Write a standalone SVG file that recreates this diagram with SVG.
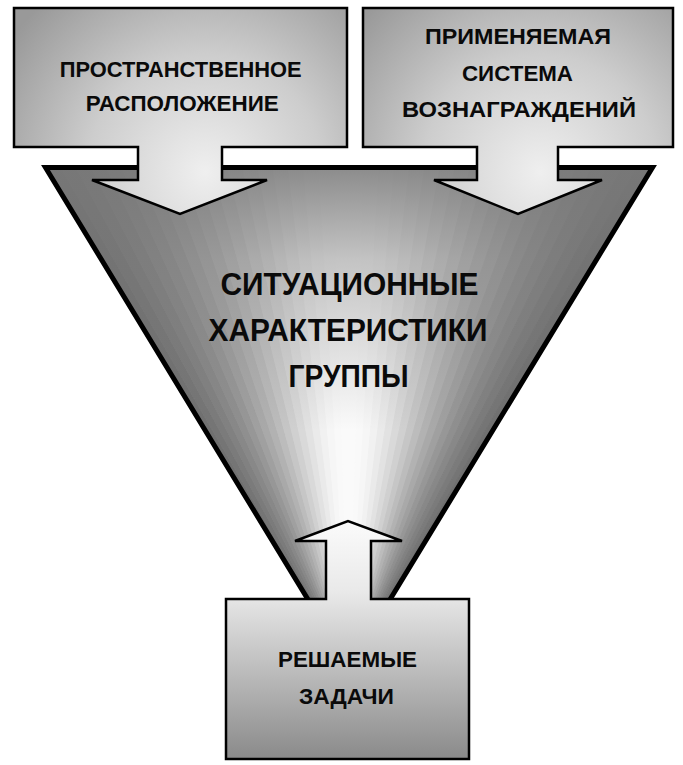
<svg xmlns="http://www.w3.org/2000/svg" width="683" height="765" viewBox="0 0 683 765">
  <style>
    .outline { fill: none; stroke: #000; stroke-linejoin: miter; }
    .blk { stroke: #000; stroke-width: 2.5; stroke-linejoin: miter; }
    .lbl { font-family: "Liberation Sans", Arial, sans-serif; font-weight: bold; fill: #0a0a0a; text-anchor: middle; }
    .small { font-size: 22.5px; }
    .big { font-size: 32px; }
  </style>
  <defs>
    <clipPath id="funnelClip">
      <polygon points="45.5,167.5 652.5,167.5 349,667"/>
    </clipPath>
    <linearGradient id="topShade" gradientUnits="userSpaceOnUse" x1="0" y1="167" x2="0" y2="430">
      <stop offset="0" stop-color="#787878" stop-opacity="0.85"/>
      <stop offset="0.35" stop-color="#787878" stop-opacity="0.42"/>
      <stop offset="1" stop-color="#787878" stop-opacity="0"/>
    </linearGradient>
    <radialGradient id="gLeft" gradientUnits="userSpaceOnUse" cx="205" cy="172" r="235">
      <stop offset="0" stop-color="#efefef"/>
      <stop offset="0.5" stop-color="#cdcdcd"/>
      <stop offset="1" stop-color="#999999"/>
    </radialGradient>
    <radialGradient id="gRight" gradientUnits="userSpaceOnUse" cx="540" cy="172" r="235">
      <stop offset="0" stop-color="#efefef"/>
      <stop offset="0.5" stop-color="#cdcdcd"/>
      <stop offset="1" stop-color="#999999"/>
    </radialGradient>
    <linearGradient id="gBottom" gradientUnits="userSpaceOnUse" x1="0" y1="521" x2="0" y2="759">
      <stop offset="0" stop-color="#fbfbfb"/>
      <stop offset="0.3" stop-color="#e9e9e9"/>
      <stop offset="1" stop-color="#8a8a8a"/>
    </linearGradient>
  </defs>

  <g id="funnel">
    <g id="funnel-shading" stroke-width="1">
      <polygon points="349,667 45.5,167.5 60.7,167.5" fill="#707070" stroke="#707070"/>
      <polygon points="349,667 60.7,167.5 75.9,167.5" fill="#757575" stroke="#757575"/>
      <polygon points="349,667 75.9,167.5 91.0,167.5" fill="#7b7b7b" stroke="#7b7b7b"/>
      <polygon points="349,667 91.0,167.5 106.2,167.5" fill="#818181" stroke="#818181"/>
      <polygon points="349,667 106.2,167.5 121.4,167.5" fill="#888888" stroke="#888888"/>
      <polygon points="349,667 121.4,167.5 136.6,167.5" fill="#8f8f8f" stroke="#8f8f8f"/>
      <polygon points="349,667 136.6,167.5 151.7,167.5" fill="#979797" stroke="#979797"/>
      <polygon points="349,667 151.7,167.5 166.9,167.5" fill="#a0a0a0" stroke="#a0a0a0"/>
      <polygon points="349,667 166.9,167.5 182.1,167.5" fill="#a9a9a9" stroke="#a9a9a9"/>
      <polygon points="349,667 182.1,167.5 197.3,167.5" fill="#b2b2b2" stroke="#b2b2b2"/>
      <polygon points="349,667 197.3,167.5 212.4,167.5" fill="#bcbcbc" stroke="#bcbcbc"/>
      <polygon points="349,667 212.4,167.5 227.6,167.5" fill="#c6c6c6" stroke="#c6c6c6"/>
      <polygon points="349,667 227.6,167.5 242.8,167.5" fill="#d0d0d0" stroke="#d0d0d0"/>
      <polygon points="349,667 242.8,167.5 258.0,167.5" fill="#d9d9d9" stroke="#d9d9d9"/>
      <polygon points="349,667 258.0,167.5 273.1,167.5" fill="#e2e2e2" stroke="#e2e2e2"/>
      <polygon points="349,667 273.1,167.5 288.3,167.5" fill="#eaeaea" stroke="#eaeaea"/>
      <polygon points="349,667 288.3,167.5 303.5,167.5" fill="#f1f1f1" stroke="#f1f1f1"/>
      <polygon points="349,667 303.5,167.5 318.7,167.5" fill="#f6f6f6" stroke="#f6f6f6"/>
      <polygon points="349,667 318.7,167.5 333.8,167.5" fill="#f9f9f9" stroke="#f9f9f9"/>
      <polygon points="349,667 333.8,167.5 349.0,167.5" fill="#fafafa" stroke="#fafafa"/>
      <polygon points="349,667 349.0,167.5 364.2,167.5" fill="#fafafa" stroke="#fafafa"/>
      <polygon points="349,667 364.2,167.5 379.4,167.5" fill="#f9f9f9" stroke="#f9f9f9"/>
      <polygon points="349,667 379.4,167.5 394.5,167.5" fill="#f6f6f6" stroke="#f6f6f6"/>
      <polygon points="349,667 394.5,167.5 409.7,167.5" fill="#f1f1f1" stroke="#f1f1f1"/>
      <polygon points="349,667 409.7,167.5 424.9,167.5" fill="#eaeaea" stroke="#eaeaea"/>
      <polygon points="349,667 424.9,167.5 440.1,167.5" fill="#e2e2e2" stroke="#e2e2e2"/>
      <polygon points="349,667 440.1,167.5 455.2,167.5" fill="#d9d9d9" stroke="#d9d9d9"/>
      <polygon points="349,667 455.2,167.5 470.4,167.5" fill="#d0d0d0" stroke="#d0d0d0"/>
      <polygon points="349,667 470.4,167.5 485.6,167.5" fill="#c6c6c6" stroke="#c6c6c6"/>
      <polygon points="349,667 485.6,167.5 500.8,167.5" fill="#bcbcbc" stroke="#bcbcbc"/>
      <polygon points="349,667 500.8,167.5 515.9,167.5" fill="#b2b2b2" stroke="#b2b2b2"/>
      <polygon points="349,667 515.9,167.5 531.1,167.5" fill="#a9a9a9" stroke="#a9a9a9"/>
      <polygon points="349,667 531.1,167.5 546.3,167.5" fill="#a0a0a0" stroke="#a0a0a0"/>
      <polygon points="349,667 546.3,167.5 561.5,167.5" fill="#979797" stroke="#979797"/>
      <polygon points="349,667 561.5,167.5 576.6,167.5" fill="#8f8f8f" stroke="#8f8f8f"/>
      <polygon points="349,667 576.6,167.5 591.8,167.5" fill="#888888" stroke="#888888"/>
      <polygon points="349,667 591.8,167.5 607.0,167.5" fill="#818181" stroke="#818181"/>
      <polygon points="349,667 607.0,167.5 622.2,167.5" fill="#7b7b7b" stroke="#7b7b7b"/>
      <polygon points="349,667 622.2,167.5 637.3,167.5" fill="#757575" stroke="#757575"/>
      <polygon points="349,667 637.3,167.5 652.5,167.5" fill="#707070" stroke="#707070"/>
    </g>
    <rect x="40" y="160" width="620" height="300" fill="url(#topShade)" clip-path="url(#funnelClip)"/>
    <polygon class="outline" stroke-width="5" points="45.5,167.5 652.5,167.5 349,667"/>
    <text class="lbl big" x="349.5" y="295" textLength="258" lengthAdjust="spacingAndGlyphs">СИТУАЦИОННЫЕ</text>
    <text class="lbl big" x="348" y="341" textLength="279" lengthAdjust="spacingAndGlyphs">ХАРАКТЕРИСТИКИ</text>
    <text class="lbl big" x="348.5" y="387" textLength="120" lengthAdjust="spacingAndGlyphs">ГРУППЫ</text>
  </g>

  <g id="block-spatial">
    <path class="blk" fill="url(#gLeft)" d="M14,8 H347 V147 H222 V180 H267 L180,214 L92,180 H138 V147 H14 Z"/>
    <text class="lbl small" x="180.7" y="76.5" textLength="242" lengthAdjust="spacingAndGlyphs">ПРОСТРАНСТВЕННОЕ</text>
    <text class="lbl small" x="182.2" y="111" textLength="193" lengthAdjust="spacingAndGlyphs">РАСПОЛОЖЕНИЕ</text>
  </g>

  <g id="block-rewards">
    <path class="blk" fill="url(#gRight)" d="M363,8 H673 V147 H558 V180 H602 L518,214 L434,180 H477 V147 H363 Z"/>
    <text class="lbl small" x="518" y="44" textLength="186" lengthAdjust="spacingAndGlyphs">ПРИМЕНЯЕМАЯ</text>
    <text class="lbl small" x="517.5" y="81" textLength="111" lengthAdjust="spacingAndGlyphs">СИСТЕМА</text>
    <text class="lbl small" x="519" y="117" textLength="234" lengthAdjust="spacingAndGlyphs">ВОЗНАГРАЖДЕНИЙ</text>
  </g>

  <g id="block-tasks">
    <path class="blk" fill="url(#gBottom)" d="M226,599 H326 V541 H295 L348,521 L402,541 H371 V599 H469 V759 H226 Z"/>
    <text class="lbl small" x="347.5" y="667" textLength="139" lengthAdjust="spacingAndGlyphs">РЕШАЕМЫЕ</text>
    <text class="lbl small" x="346.5" y="704" textLength="95" lengthAdjust="spacingAndGlyphs">ЗАДАЧИ</text>
  </g>

  <g id="connectors"/>
</svg>
